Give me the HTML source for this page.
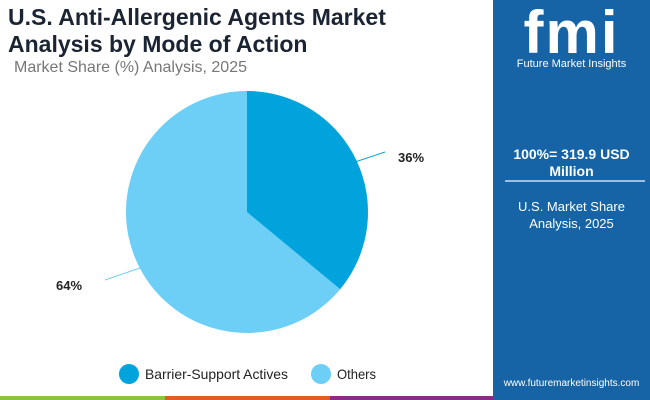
<!DOCTYPE html>
<html><head><style>
body{margin:0;width:650px;height:400px;position:relative;overflow:hidden;background:#fff;font-family:"Liberation Sans",sans-serif}
.t{position:absolute;left:8px;top:4px;font-size:23px;font-weight:bold;color:#1b2433;line-height:27px}
.s{position:absolute;left:14px;top:59px;font-size:16px;color:#777}
.p{position:absolute;left:493px;top:0;width:157px;height:400px;background:#1664a6;color:#fff;text-align:center}
</style></head><body>
<div class="t">U.S. Anti-Allergenic Agents Market<br>Analysis by Mode of Action</div>
<div class="s">Market Share (%) Analysis, 2025</div>
<svg width="650" height="400" style="position:absolute;left:0;top:0">
<circle cx="247" cy="212" r="121" fill="#6dcff6"/>
<path d="M247,212 L247,91 A121,121 0 0 1 340.2,289.1 Z" fill="#00a3dc"/>
<line x1="352" y1="163" x2="385" y2="152" stroke="#00a3dc" stroke-width="1"/>
<line x1="140" y1="268" x2="105" y2="280" stroke="#6dcff6" stroke-width="1"/>
<text x="398" y="162" font-size="13" font-weight="bold" fill="#222">36%</text>
<text x="56" y="290" font-size="13" font-weight="bold" fill="#222">64%</text>
<circle cx="129" cy="374" r="10" fill="#00a3dc"/>
<text x="145" y="379" font-size="14" fill="#222" textLength="143" lengthAdjust="spacingAndGlyphs">Barrier-Support Actives</text>
<circle cx="321" cy="374" r="10" fill="#6dcff6"/>
<text x="337" y="379" font-size="14" fill="#222" textLength="39" lengthAdjust="spacingAndGlyphs">Others</text>
<rect x="0" y="396" width="165" height="4" fill="#8bc43f"/>
<rect x="165" y="396" width="165" height="4" fill="#e25c26"/>
<rect x="330" y="396" width="165" height="4" fill="#8b2b86"/>
</svg>
<div class="p">
<div style="position:absolute;top:-2px;left:0;width:157px;font-size:60px;font-weight:bold;letter-spacing:2px">fmi</div>
<div style="position:absolute;top:58px;left:0;width:157px;font-size:11px">Future Market Insights</div>
<div style="position:absolute;top:146px;left:0;width:157px;font-size:14px;font-weight:bold;line-height:17px">100%= 319.9 USD<br>Million</div>
<div style="position:absolute;top:180px;left:12px;width:140px;height:2px;background:#9cc0e0"></div>
<div style="position:absolute;top:198px;left:0;width:157px;font-size:13px;line-height:17px">U.S. Market Share<br>Analysis, 2025</div>
<div style="position:absolute;top:378px;left:0;width:157px;font-size:10px">www.futuremarketinsights.com</div>
</div>
</body></html>
